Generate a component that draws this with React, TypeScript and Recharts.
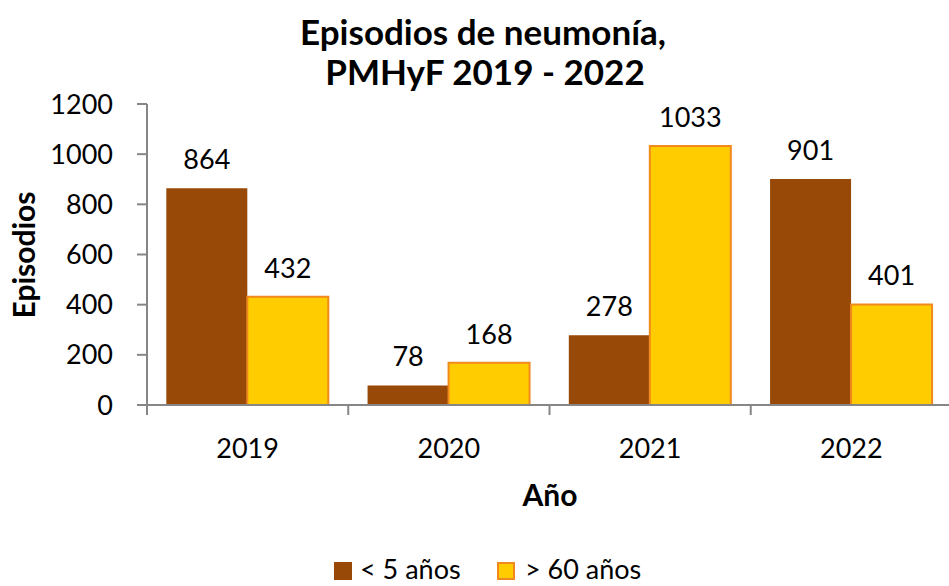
import React from 'react';
import { BarChart, Bar, XAxis, YAxis, LabelList } from 'recharts';

const categories = ['2019', '2020', '2021', '2022'];
const under5 = [864, 78, 278, 901];
const over60 = [432, 168, 1033, 401];
const yTicks = [0, 200, 400, 600, 800, 1000, 1200];
const seriesNames = ['< 5 años', '> 60 años'];
const titleLines = ['Episodios de neumonía,', 'PMHyF 2019 - 2022'];
const yTitle = 'Episodios';
const xTitle = 'Año';

const data = categories.map((c, i) => ({ year: c, a: under5[i], b: over60[i] }));

const FONT = 'Lato, "Open Sans", sans-serif';
const BROWN = '#984807';
const YELLOW = '#FFCC00';
const ORANGE = '#F08A1E';
const AXIS = '#868686';

const CHART_W = 978;
const CHART_H = 586;
const M_TOP = 104;
const M_RIGHT = 26;
const Y_W = 147;
const X_H = 181;
const PLOT_W = CHART_W - M_RIGHT - Y_W;
const HALF = PLOT_W / categories.length / 2;

const XTick = (props: any) => {
  const { x, y, payload, index } = props;
  return (
    <g>
      <line x1={x - HALF} x2={x - HALF} y1={y} y2={y + 10} stroke={AXIS} strokeWidth={2} />
      {index === categories.length - 1 && (
        <line x1={x + HALF} x2={x + HALF} y1={y} y2={y + 10} stroke={AXIS} strokeWidth={2} />
      )}
      <text x={x} y={y + 53} textAnchor="middle" fontSize={27} fontFamily={FONT} fill="#000">
        {payload.value}
      </text>
    </g>
  );
};

export default function App() {
  return (
    <div
      style={{
        position: 'absolute',
        left: 0,
        top: 0,
        width: 949,
        height: 586,
        overflow: 'hidden',
        background: '#fff',
        fontFamily: FONT,
      }}
    >
      <BarChart
        width={CHART_W}
        height={CHART_H}
        data={data}
        margin={{ top: M_TOP, right: M_RIGHT, left: 0, bottom: 0 }}
        barCategoryGap="9.6%"
        barGap={0}
      >
        <YAxis
          width={Y_W}
          domain={[0, 1200]}
          ticks={yTicks}
          interval={0}
          tickSize={10}
          tickMargin={24}
          axisLine={{ stroke: AXIS, strokeWidth: 2 }}
          tickLine={{ stroke: AXIS, strokeWidth: 2 }}
          tick={{ fill: '#000', fontSize: 27, fontFamily: FONT }}
        />
        <XAxis
          dataKey="year"
          height={X_H}
          tickSize={0}
          tickMargin={0}
          tickLine={false}
          axisLine={{ stroke: AXIS, strokeWidth: 2 }}
          tick={<XTick />}
          interval={0}
        />
        <Bar dataKey="a" name={seriesNames[0]} fill={BROWN} isAnimationActive={false}>
          <LabelList dataKey="a" position="top" offset={19} fill="#000" fontSize={27} fontFamily={FONT} />
        </Bar>
        <Bar dataKey="b" name={seriesNames[1]} fill={YELLOW} stroke={ORANGE} strokeWidth={2} isAnimationActive={false}>
          <LabelList dataKey="b" position="top" offset={19} fill="#000" fontSize={27} fontFamily={FONT} />
        </Bar>
      </BarChart>
      <svg
        width={949}
        height={586}
        style={{ position: 'absolute', left: 0, top: 0, pointerEvents: 'none' }}
      >
        <text x={483} y={45} textAnchor="middle" fontSize={35} fontWeight="bold" fontFamily={FONT}>
          {titleLines[0]}
        </text>
        <text x={485} y={85} textAnchor="middle" fontSize={35} fontWeight="bold" fontFamily={FONT}>
          {titleLines[1]}
        </text>
        <text
          x={0}
          y={0}
          transform="translate(35,255) rotate(-90)"
          textAnchor="middle"
          fontSize={30}
          fontWeight="bold"
          fontFamily={FONT}
        >
          {yTitle}
        </text>
        <text x={550} y={506} textAnchor="middle" fontSize={30} fontWeight="bold" fontFamily={FONT}>
          {xTitle}
        </text>
        <rect x={334} y={562} width={18} height={18} fill={BROWN} />
        <text x={360} y={579} fontSize={27} fontFamily={FONT}>
          {seriesNames[0]}
        </text>
        <rect x={498} y={563} width={16} height={16} fill={YELLOW} stroke={ORANGE} strokeWidth={2} />
        <text x={525} y={579} fontSize={27} fontFamily={FONT}>
          {seriesNames[1]}
        </text>
      </svg>
    </div>
  );
}
